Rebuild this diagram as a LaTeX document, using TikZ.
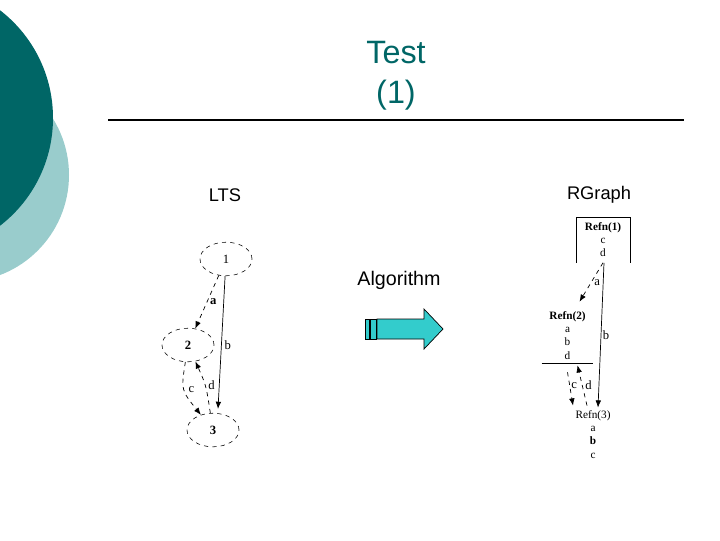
\documentclass[tikz,border=0pt]{standalone}
\usepackage{fontspec}
\setmainfont{Liberation Serif}
\setsansfont{Liberation Sans}
\usetikzlibrary{positioning,arrows.meta,calc,shapes.geometric}
\definecolor{tealdark}{HTML}{006666}
\definecolor{teallight}{HTML}{99CCCC}
\definecolor{arrowcyan}{HTML}{33CCCC}
\tikzset{
  ttl/.style={font=\sffamily\fontsize{23}{27}\selectfont,text=tealdark},
  hdr/.style={font=\sffamily\fontsize{13}{15}\selectfont},
  st/.style={ellipse,draw,dashed,minimum width=1.3cm,minimum height=0.84cm,inner sep=0pt,
    font=\fontsize{9}{10}\selectfont},
  refn/.style={align=center,inner sep=0pt,font=\fontsize{8}{9.3}\selectfont},
  edg/.style={-{Latex[length=1.8mm,width=1.4mm]},line width=0.5pt},
  elbl/.style={font=\fontsize{9}{10}\selectfont,inner sep=1pt},
  bigarr/.style={fill=arrowcyan,draw=black,line width=0.5pt},
}

\begin{document}
\begin{tikzpicture}[x=0.025cm,y=-0.025cm]
  \useasboundingbox (0,0) rectangle (720,540);
  \clip (0,0) rectangle (720,540);
  % slide decoration
  \fill[teallight] (-38,175) circle (107);
  \fill[tealdark] (-83,118) circle (136);
  \node[ttl] (title1) at (396,53) {Test};
  \node[ttl] (title2) at (396,95) {(1)};
  \draw[line width=1.2pt] (108,120) -- (684,120);
  \node[hdr] (lts) at (225,195) {LTS};
  \node[hdr] (rgraph) at (599,195) {RGraph};
  \node[hdr,font=\sffamily\fontsize{14}{16}\selectfont] (algo) at (399,280) {Algorithm};
  % block arrow
  \draw[bigarr] (377,319) -- (424,319) -- (424,309) -- (443,329) -- (424,349)
    -- (424,339) -- (377,339) -- cycle;
  \draw[bigarr] (365,319) rectangle (369,339);
  \draw[bigarr] (370,319) rectangle (376,339);
  % LTS
  \node[st] (e1) at (226,259) {1};
  \node[st] (e2) at (188,345) {\bfseries 2};
  \node[st] (e3) at (213,430) {\bfseries 3};
  \draw[edg,dashed] (e1) -- (e2) node[elbl,pos=0.5,right=1pt] (la) {\bfseries a};
  \draw[edg] (e1) -- ($(e3.north)+(5,-4)$) node[elbl,pos=0.52,right=1pt] (lb) {b};
  \draw[edg,dashed] (e2) .. controls (181,390) .. (e3) node[elbl,pos=0.5,right=2pt] (lc) {c};
  \draw[edg,dashed] (e3) .. controls (206,385) .. (e2) node[elbl,pos=0.5,right=1pt] (ld) {d};
  % RGraph
  \node[refn,minimum width=1.325cm,minimum height=1.125cm] (r1) at (603,240)
    {\bfseries Refn(1)\\c\\d};
  \draw (r1.south west) -- (r1.north west) -- (r1.north east) -- (r1.south east);
  \node[refn,minimum width=1.275cm,minimum height=1.375cm] (r2) at (567.5,335.5)
    {\bfseries Refn(2)\\a\\b\\d};
  \draw (r2.south west) -- (r2.south east);
  \node[refn] (r3) at (593,434.5) {Refn(3)\\a\\\bfseries b\\c};
  \draw[edg,dashed] (r1.south) -- ($(r2.north)+(12,-6)$) node[elbl,pos=0.5,right=1pt] (ra) {a};
  \draw[edg] ($(r1.south)+(1,0)$) -- ($(r3.north)+(5,-3)$) node[elbl,pos=0.5,right=0pt] (rb) {b};
  \draw[edg,dashed] ($(r2.south)+(0,9)$) -- ($(r3.north)+(-20,-5)$) node[elbl,pos=0.4,right=0pt] (rc) {c};
  \draw[edg,dashed] ($(r3.north)+(-6,-5)$) -- ($(r2.south)+(10,2)$) node[elbl,pos=0.5,right=1pt] (rd) {d};
\end{tikzpicture}
\end{document}
